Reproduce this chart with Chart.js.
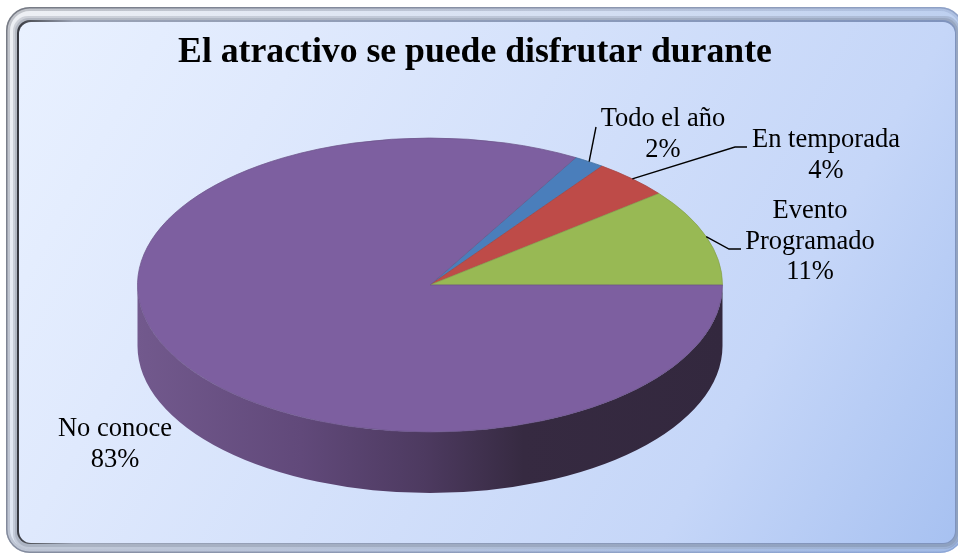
<!DOCTYPE html>
<html>
<head>
<meta charset="utf-8">
<style>html,body{margin:0;padding:0;background:#fff}canvas{display:block}</style>
<script src="https://cdn.jsdelivr.net/npm/chart.js@4"></script>
</head>
<body>
<canvas id="c" width="958" height="554"></canvas>
<script>
const titleText = 'El atractivo se puede disfrutar durante';
const categories = ['Todo el año', 'En temporada', 'Evento Programado', 'No conoce'];
const values = [1.7, 4.3, 10.7, 83.3];
const colors = ['#4a7ebb', '#be4b48', '#98b954', '#7d5fa0'];
const edgeColors = ['#44709f', '#a64644', '#86a24e', '#6d558b'];
// Layout of the fake 3D pie
const CX = 430, CY = 285, RX = 292.5, RY = 147, DEPTH = 61;
const SERIF = '"Liberation Serif", "Times New Roman", serif';
const labelLayout = [
  {x: 663, y: 126, lines: ['Todo el año'], elbow: [[596, 127]]},
  {x: 826, y: 147, lines: ['En temporada'], elbow: [[735, 147], [747, 147]]},
  {x: 810, y: 218, lines: ['Evento', 'Programado'], elbow: [[729, 249], [741, 249]]},
  {x: 115, y: 436, lines: ['No conoce'], elbow: []}
];
const LINE_H = 30.5;
function rr(ctx, x, y, w, h, r) { ctx.beginPath(); ctx.roundRect(x, y, w, h, r); }
const frame = {
  id: 'frame',
  beforeDraw(chart) {
    const ctx = chart.ctx;
    ctx.save();
    ctx.fillStyle = '#fff';
    ctx.fillRect(0, 0, 958, 554);
    // Bevel band
    let g = ctx.createLinearGradient(6, 7, 870, 553);
    g.addColorStop(0, '#eef0f4');
    g.addColorStop(0.5, '#d3def2');
    g.addColorStop(1, '#aec6ee');
    rr(ctx, 6, 7, 958, 546, 24); ctx.fillStyle = g; ctx.fill();
    // Soft outer edge
    let e = ctx.createLinearGradient(6, 7, 870, 553);
    e.addColorStop(0, 'rgba(110,114,124,1)');
    e.addColorStop(0.5, 'rgba(130,140,165,0.9)');
    e.addColorStop(1, 'rgba(130,155,205,0.7)');
    ctx.strokeStyle = e;
    ctx.globalAlpha = 0.35; ctx.lineWidth = 4;
    rr(ctx, 8, 9, 954, 542, 22); ctx.stroke();
    ctx.globalAlpha = 0.9; ctx.lineWidth = 1.5;
    rr(ctx, 6.75, 7.75, 956.5, 544.5, 23); ctx.stroke();
    ctx.globalAlpha = 1;
    // Shading leading into the inner edge
    ctx.fillStyle = 'rgba(95,105,125,0.22)';
    rr(ctx, 13, 16, 947, 533, 15); ctx.fill();
    rr(ctx, 15, 18, 943, 529, 14); ctx.fill();
    // Inner edge: dark on the left, blue-grey further right
    g = ctx.createLinearGradient(17, 0, 958, 0);
    g.addColorStop(0, '#35373f');
    g.addColorStop(0.015, '#55585f');
    g.addColorStop(0.06, '#9aa2b4');
    g.addColorStop(1, '#7f93bd');
    rr(ctx, 17, 20, 939, 524, 13); ctx.fillStyle = g; ctx.fill();
    // Panel
    g = ctx.createLinearGradient(19, 22, 955, 543);
    g.addColorStop(0, '#e9f1ff');
    g.addColorStop(0.24, '#dfe9fd');
    g.addColorStop(0.76, '#c5d6f8');
    g.addColorStop(1, '#a7c1f1');
    rr(ctx, 19, 22, 936, 521, 12); ctx.fillStyle = g; ctx.fill();
    ctx.restore();
  }
};
const pie3d = {
  id: 'pie3d',
  beforeDatasetsDraw(chart) {
    const ctx = chart.ctx;
    const arc0 = chart.getDatasetMeta(0).data[0];
    // Side wall: only the front half of the disc is visible
    ctx.save();
    const g = ctx.createLinearGradient(CX - RX, 0, CX + RX, 0);
    g.addColorStop(0, '#72598d');
    g.addColorStop(0.28, '#61497a');
    g.addColorStop(0.49, '#4d3a60');
    g.addColorStop(0.66, '#362a41');
    g.addColorStop(1, '#33283e');
    ctx.beginPath();
    ctx.ellipse(CX, CY, RX, RY, 0, 0, Math.PI, false);
    ctx.lineTo(CX - RX, CY + DEPTH);
    ctx.ellipse(CX, CY + DEPTH, RX, RY, 0, Math.PI, 0, true);
    ctx.closePath();
    ctx.fillStyle = g;
    ctx.fill();
    ctx.restore();
    // Squash the library's own arcs into an ellipse
    ctx.save();
    ctx.translate(CX, CY);
    ctx.scale(1, RY / RX);
    ctx.translate(-arc0.x, -arc0.y);
  },
  afterDatasetsDraw(chart) {
    const ctx = chart.ctx;
    ctx.restore();
    const arcs = chart.getDatasetMeta(0).data;
    ctx.save();
    ctx.fillStyle = '#000';
    ctx.strokeStyle = '#000';
    ctx.lineWidth = 1.4;
    ctx.font = '26.5px ' + SERIF;
    ctx.textAlign = 'center';
    ctx.textBaseline = 'alphabetic';
    labelLayout.forEach((l, i) => {
      const mid = (arcs[i].startAngle + arcs[i].endAngle) / 2;
      if (l.elbow.length) {
        ctx.beginPath();
        ctx.moveTo(CX + RX * Math.cos(mid), CY + RY * Math.sin(mid));
        l.elbow.forEach(p => ctx.lineTo(p[0], p[1]));
        ctx.stroke();
      }
      const rows = l.lines.concat([Math.round(values[i]) + '%']);
      rows.forEach((t, k) => ctx.fillText(t, l.x, l.y + k * LINE_H));
    });
    ctx.restore();
  }
};
new Chart(document.getElementById('c'), {
  type: 'pie',
  data: { labels: categories, datasets: [{ data: values, backgroundColor: colors, borderColor: edgeColors, borderWidth: 1, radius: RX }] },
  options: {
    responsive: false, animation: false, rotation: 29.9,
    layout: {padding: {left: 0, right: 8, top: 31.5, bottom: 0}},
    plugins: {
      legend: {display: false}, tooltip: {enabled: false},
      title: { display: true, text: titleText, color: '#000', font: {family: SERIF, size: 35.7, weight: 'bold'}, padding: 0 }
    }
  },
  plugins: [frame, pie3d]
});
</script>
</body>
</html>
